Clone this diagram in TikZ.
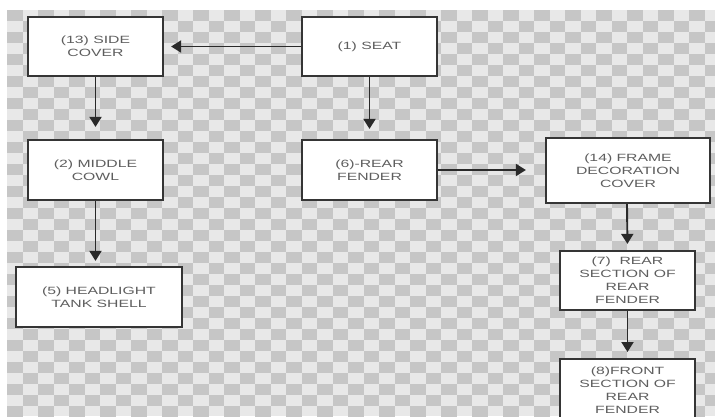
\documentclass[tikz,border=0pt]{standalone}
\usepackage{fontspec}
\setmainfont{Liberation Sans}[FakeStretch=1.5]
\usetikzlibrary{arrows.meta}
\definecolor{chkdark}{HTML}{C6C6C6}
\definecolor{chklight}{HTML}{E8E8E8}
\definecolor{boxline}{HTML}{353535}
\definecolor{arrline}{HTML}{2A2A2A}
\definecolor{txt}{HTML}{5E5E5E}
\tikzset{
  partbox/.style={draw=boxline, line width=2.2pt, fill=white, align=center,
    font=\fontsize{10.5}{13}\selectfont, text=txt, inner sep=2pt},
  flowarrow/.style={draw=arrline, line width=1.9pt,
    -{Triangle[length=10pt,width=12pt]}}
}
\begin{document}
\begin{tikzpicture}[x=1pt,y=-1pt]
\useasboundingbox (0,0) rectangle (715,416);
\clip (0,0) rectangle (715,416);
\fill[white] (0,0) rectangle (715,416);
% checker background
\fill[chklight] (7,10) rectangle (715,416);
\foreach \i in {0,...,46}{
  \foreach \j in {0,...,37}{
    \pgfmathtruncatemacro{\chkpar}{mod(\i+\j,2)}
    \ifnum\chkpar=0
      \fill[chkdark] ({7+\i*15.5},{10+\j*11}) rectangle ++(15.5,11);
    \fi
  }
}
\node[partbox, minimum width=135pt, minimum height=59pt] (side) at (95.5,46.5) {(13) SIDE\\COVER};
\node[partbox, minimum width=135pt, minimum height=59pt] (seat) at (369.5,46.5) {(1) SEAT};
\node[partbox, minimum width=135pt, minimum height=60pt] (cowl) at (95.5,170) {(2) MIDDLE\\COWL};
\node[partbox, minimum width=135pt, minimum height=60pt] (fender) at (369.5,170) {(6)-REAR\\FENDER};
\node[partbox, minimum width=164pt, minimum height=65pt] (frame) at (628,170.5) {(14) FRAME\\DECORATION\\COVER};
\node[partbox, minimum width=166pt, minimum height=60pt] (head) at (99,297) {(5) HEADLIGHT\\TANK SHELL};
\node[partbox, minimum width=135pt, minimum height=59pt] (rsec) at (627.5,280.5) {(7)\ \ REAR\\SECTION OF\\REAR\\FENDER};
\node[partbox, minimum width=135pt, minimum height=62pt, anchor=north] (fsec) at (627.5,358) {(8)FRONT\\SECTION OF\\REAR\\FENDER};
\draw[flowarrow, shorten >=7pt] (seat.west) -- (side.east);
\draw[flowarrow, shorten >=12pt] (side.south) -- (cowl.north);
\draw[flowarrow, shorten >=5pt] (cowl.south) -- ([xshift=-3.5pt]head.north);
\draw[flowarrow, shorten >=10pt] (seat.south) -- (fender.north);
\draw[flowarrow, shorten >=19pt] (fender.east) -- (frame.west |- fender.east);
\draw[flowarrow, shorten >=6pt] ([xshift=-1pt]frame.south) -- (rsec.north);
\draw[flowarrow, shorten >=6pt] (rsec.south) -- (fsec.north);
\end{tikzpicture}
\end{document}
